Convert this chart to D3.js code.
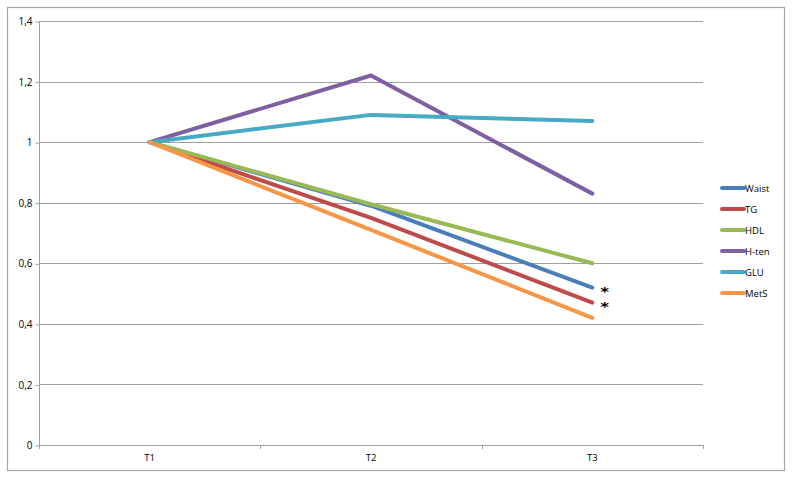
<!DOCTYPE html>
<html>
<head>
<meta charset="utf-8">
<script src="https://cdn.jsdelivr.net/npm/d3@7"></script>
<style>
    body { margin: 0; background: #fff; }
    svg text { font-family: "Open Sans", "Liberation Sans", sans-serif; font-size: 10px; fill: #000; }
</style>
</head>
<body>
<svg id="chart" width="792" height="478"></svg>
<script>
// chart data
var categories = ["T1", "T2", "T3"];
var seriesNames = ["Waist", "TG", "HDL", "H-ten", "GLU", "MetS"];
var waist = [1, 0.79, 0.52];
var tg = [1, 0.75, 0.47];
var hdl = [1, 0.795, 0.60];
var hten = [1, 1.22, 0.83];
var glu = [1, 1.09, 1.07];
var mets = [1, 0.71, 0.42];
var yTicks = [0, 0.2, 0.4, 0.6, 0.8, 1, 1.2, 1.4];
var starred = ["Waist", "TG"];

var colors = ["#4a7ebb", "#be4b48", "#98b954", "#7d60a0", "#46aac5", "#f79646"];
var allValues = [waist, tg, hdl, hten, glu, mets];

function drawChart()
{
    var svg = d3.select("#chart");
    var left = 39, right = 703, top = 21, bottom = 445;

    // outer border
    svg.append("rect")
            .attr("x", 7.5).attr("y", 7.5)
            .attr("width", 777).attr("height", 463)
            .style("fill", "none")
            .style("stroke", "#a6a6a6")
            .style("stroke-width", "1.2px");

    var x = d3.scaleBand().domain(categories).range([left, right]);
    var y = d3.scaleLinear().domain([0, 1.4]).range([bottom, top]);
    var fmt = function(d) { return d3.format("~g")(+d.toFixed(1)).replace(".", ","); };

    // gridlines
    svg.append("g").selectAll("line")
            .data(yTicks.filter(function(d) { return d > 0; }))
            .enter().append("line")
            .attr("x1", left).attr("x2", right)
            .attr("y1", function(d) { return Math.round(y(d)) + 0.5; })
            .attr("y2", function(d) { return Math.round(y(d)) + 0.5; })
            .style("stroke", "#a0a0a0").style("stroke-width", "1px");

    // y axis
    var yAxis = svg.append("g")
            .attr("transform", "translate(" + (left + 0.5) + ",0.5)")
            .call(d3.axisLeft(y).tickValues(yTicks).tickFormat(fmt).tickSize(4).tickPadding(3));
    yAxis.selectAll("path, line").style("stroke", "#a0a0a0");
    yAxis.select(".domain").attr("d", "M0," + Math.round(top) + "V" + Math.round(bottom));

    // x axis
    var xAxis = svg.append("g")
            .attr("transform", "translate(0," + (bottom + 0.5) + ")")
            .call(d3.axisBottom(x).tickSize(0).tickPadding(9));
    xAxis.select(".domain").attr("d", "M" + left + ",0H" + right).style("stroke", "#a0a0a0");
    xAxis.selectAll(".tick text").style("font-size", "9.5px");
    svg.append("g").selectAll("line")
            .data(d3.range(categories.length + 1))
            .enter().append("line")
            .attr("x1", function(i) { return Math.round(left + i * x.bandwidth()) + 0.5; })
            .attr("x2", function(i) { return Math.round(left + i * x.bandwidth()) + 0.5; })
            .attr("y1", bottom).attr("y2", bottom + 4)
            .style("stroke", "#a0a0a0");

    // series lines
    var line = d3.line()
            .x(function(d, i) { return x(categories[i]) + x.bandwidth() / 2; })
            .y(function(d) { return y(d); });

    svg.append("g").selectAll("path")
            .data(allValues)
            .enter().append("path")
            .attr("d", line)
            .style("fill", "none")
            .style("stroke", function(d, i) { return colors[i]; })
            .style("stroke-width", "4px")
            .style("stroke-linecap", "round")
            .style("stroke-linejoin", "round");

    // significance stars (widened horizontally so the boxes stay apart)
    var last = categories[categories.length - 1];
    starred.forEach(function(name) {
        var v = allValues[seriesNames.indexOf(name)];
        var sx = x(last) + x.bandwidth() / 2 + 8,
            sy = y(v[v.length - 1]) + 8;
        svg.append("text")
                .attr("transform", "translate(" + sx + "," + sy + ") scale(1.35,1)")
                .style("font-size", "12.5px")
                .style("font-weight", "bold")
                .style("font-family", "DejaVu Sans, sans-serif")
                .text("*");
    });

    // legend
    var legend = svg.append("g").selectAll("g")
            .data(seriesNames)
            .enter().append("g")
            .attr("transform", function(d, i) { return "translate(721," + (188 + i * 21) + ")"; });
    legend.append("line")
            .attr("x1", 1).attr("x2", 23)
            .style("stroke", function(d, i) { return colors[i]; })
            .style("stroke-width", "4px")
            .style("stroke-linecap", "round");
    legend.append("text")
            .attr("x", 24).attr("y", 3.5)
            .style("font-size", "9.5px")
            .text(function(d) { return d; });
}

drawChart();
</script>
</body>
</html>
